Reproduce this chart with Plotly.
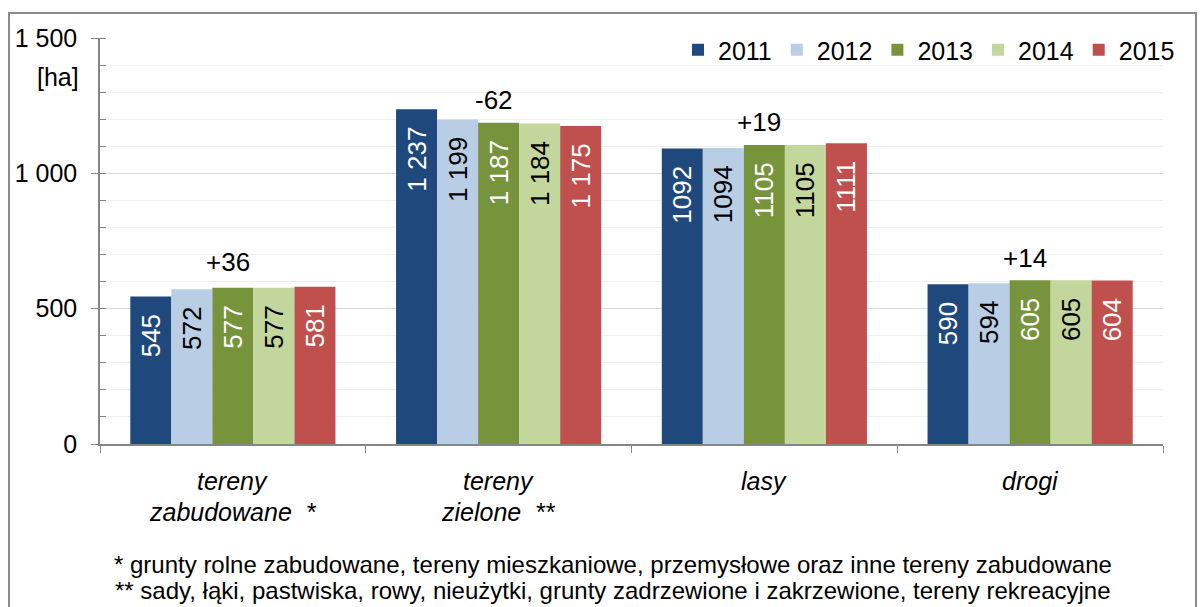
import plotly.graph_objects as go

categories = ["tereny zabudowane", "tereny zielone", "lasy", "drogi"]
category_lines = [("tereny", "zabudowane  *"), ("tereny", "zielone  **"), ("lasy", ""), ("drogi", "")]
years = ["2011", "2012", "2013", "2014", "2015"]

values_2011 = [545, 1237, 1092, 590]
values_2012 = [572, 1199, 1094, 594]
values_2013 = [577, 1187, 1105, 605]
values_2014 = [577, 1184, 1105, 605]
values_2015 = [581, 1175, 1111, 604]

labels_2011 = ["545", "1 237", "1092", "590"]
labels_2012 = ["572", "1 199", "1094", "594"]
labels_2013 = ["577", "1 187", "1105", "605"]
labels_2014 = ["577", "1 184", "1105", "605"]
labels_2015 = ["581", "1 175", "1111", "604"]

y_tickvals = [0, 500, 1000, 1500]
y_ticktext = ["0", "500", "1 000", "1 500"]

footnotes = [
    "* grunty rolne zabudowane, tereny mieszkaniowe, przemysłowe oraz inne tereny zabudowane",
    "** sady, łąki, pastwiska, rowy, nieużytki, grunty zadrzewione i zakrzewione, tereny rekreacyjne",
]

series = [
    ("2011", values_2011, labels_2011, "#1F497D", "white"),
    ("2012", values_2012, labels_2012, "#B9CDE5", "black"),
    ("2013", values_2013, labels_2013, "#77933C", "white"),
    ("2014", values_2014, labels_2014, "#C3D69B", "black"),
    ("2015", values_2015, labels_2015, "#C0504D", "white"),
]

FONT = "Liberation Sans"
W, H = 1201, 607
L, R, T, B = 100, 38, 38, 163
PW, PH = W - L - R, H - T - B


def px_x(px):
    return (px - L) / PW


def px_y(py):
    return (H - B - py) / PH


fig = go.Figure()
for name, vals, labels, color, txtcolor in series:
    fig.add_trace(go.Bar(
        name=name,
        x=categories,
        y=vals,
        text=[t.replace(" ", "\u00a0") + "\u00a0\u00a0" for t in labels],
        textposition="inside",
        insidetextanchor="end",
        textangle=-90,
        insidetextfont=dict(family=FONT, size=26, color=txtcolor),
        marker=dict(color=color, line=dict(width=0)),
        hoverinfo="skip",
    ))

annotations = []

# change 2011 -> 2015 above each group
change_label_y = [672, 1271, 1190, 687]
for i, cat in enumerate(categories):
    d = values_2015[i] - values_2011[i]
    annotations.append(dict(
        x=cat, y=change_label_y[i], xref="x", yref="y",
        text="%+d" % d, showarrow=False, xshift=-5,
        font=dict(family=FONT, size=26, color="black"),
    ))

# category labels (italic, two rows)
for i, cat in enumerate(categories):
    for row, txt in enumerate(category_lines[i]):
        if not txt:
            continue
        annotations.append(dict(
            x=cat, y=px_y(481 + row * 31), xref="x", yref="paper",
            text="<i>%s</i>" % txt, showarrow=False, yanchor="middle",
            font=dict(family=FONT, size=25, color="black"),
        ))

annotations.append(dict(
    x=px_x(81), y=px_y(77), xref="paper", yref="paper", text="[ha]",
    showarrow=False, xanchor="right", yanchor="middle",
    font=dict(family=FONT, size=25, color="black"),
))

for row, txt in enumerate(footnotes):
    annotations.append(dict(
        x=px_x(613), y=px_y(564 + row * 26), xref="paper", yref="paper", text=txt,
        showarrow=False, xanchor="center", yanchor="middle",
        font=dict(family=FONT, size=24, color="black"),
    ))

fig.update_layout(
    width=W, height=H,
    margin=dict(l=L, r=R, t=T, b=B, autoexpand=False),
    paper_bgcolor="white", plot_bgcolor="white",
    barmode="group", bargap=0.228, bargroupgap=0,
    font=dict(family=FONT, size=25, color="black"),
    showlegend=True,
    legend=dict(
        orientation="h", x=px_x(1180), xanchor="right", y=px_y(50), yanchor="middle",
        font=dict(family=FONT, size=25, color="black"),
        bgcolor="rgba(0,0,0,0)", itemwidth=30, tracegroupgap=0,
    ),
    annotations=annotations,
    shapes=[dict(
        type="rect", xref="paper", yref="paper",
        x0=px_x(9), x1=px_x(1196), y0=px_y(640), y1=px_y(13),
        line=dict(color="#8c8c8c", width=2), fillcolor="rgba(0,0,0,0)", layer="below",
    )],
)

fig.update_xaxes(
    type="category", range=[-0.5, 3.5],
    showticklabels=False, tickson="boundaries", ticks="outside", ticklen=7,
    tickcolor="#868686", showline=True, linecolor="#868686", linewidth=1.5,
    showgrid=False, zeroline=False,
)
fig.update_yaxes(
    range=[0, 1500], tickvals=y_tickvals, ticktext=y_ticktext,
    ticks="outside", ticklen=7, tickcolor="#868686", ticklabelstandoff=9,
    tickfont=dict(family=FONT, size=25, color="black"),
    showline=True, linecolor="#868686", linewidth=1.5,
    showgrid=True, gridcolor="#d9d9d9", gridwidth=1, zeroline=False,
    minor=dict(dtick=100, ticks="inside", ticklen=6, tickcolor="#868686",
               showgrid=True, gridcolor="#efefef", gridwidth=1),
)

# page body has an 8px default margin; drop it so the figure fills the window
fig.write_html("out.html", config={"displayModeBar": False},
               post_script="document.body.style.margin = '0';")
